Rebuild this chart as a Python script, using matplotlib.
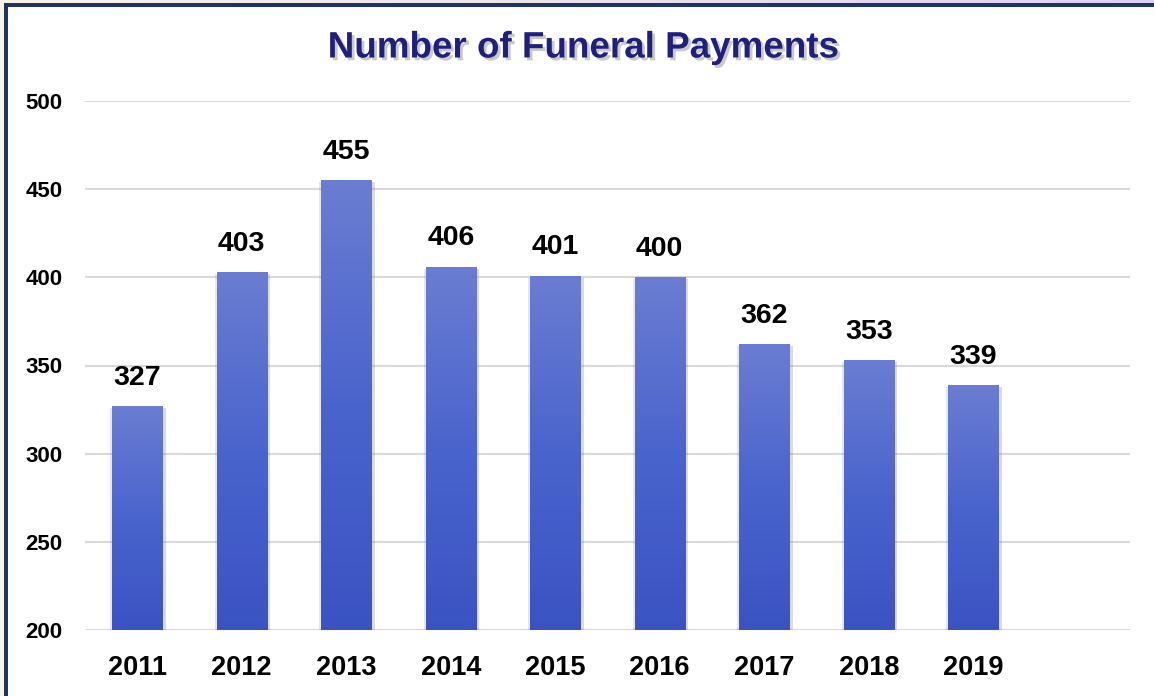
import matplotlib.pyplot as plt
import matplotlib.patheffects as pe
import numpy as np
from matplotlib.colors import LinearSegmentedColormap
from matplotlib.patches import Rectangle

years = ['2011', '2012', '2013', '2014', '2015', '2016', '2017', '2018', '2019']
payments = [327, 403, 455, 406, 401, 400, 362, 353, 339]
y_ticks = [200, 250, 300, 350, 400, 450, 500]

plt.rcParams['font.family'] = ['Liberation Sans', 'DejaVu Sans']

fig = plt.figure(figsize=(11.54, 6.96), dpi=100)
fig.patch.set_facecolor('white')

# frame: cream / lavender strip and navy border on top and left
strip = np.linspace(0, 1, 256).reshape(1, -1)
strip_cmap = LinearSegmentedColormap.from_list('strip', ['#fbf3e4', '#ddd0f2'])
top_ax = fig.add_axes([0, 1 - 3 / 696, 1, 3 / 696])
top_ax.imshow(strip, cmap=strip_cmap, aspect='auto')
top_ax.axis('off')
fig.patches.append(Rectangle((0, 0), 4 / 1154, 1 - 3 / 696, transform=fig.transFigure,
                             facecolor='#fbf3e4', edgecolor='none', zorder=1))
fig.patches.append(Rectangle((4 / 1154, 0), 4 / 1154, 1 - 3 / 696, transform=fig.transFigure,
                             facecolor='#1f3366', edgecolor='none', zorder=2))
fig.patches.append(Rectangle((4 / 1154, 1 - 7 / 696), 1, 4 / 696, transform=fig.transFigure,
                             facecolor='#1f3366', edgecolor='none', zorder=2))

ax = fig.add_axes([85 / 1154, 66 / 696, 1045 / 1154, 529 / 696])
x = np.arange(len(years))

bar_cmap = LinearSegmentedColormap.from_list('bar', ['#3a53c2', '#4a64cd', '#6a7dd2'])
bars = ax.bar(x, payments, width=0.48, bottom=0, color='none', zorder=3,
              path_effects=[pe.SimplePatchShadow(offset=(2.5, -1.5), shadow_rgbFace='#888888', alpha=0.3),
                            pe.SimplePatchShadow(offset=(-1.5, -1.5), shadow_rgbFace='#888888', alpha=0.2),
                            pe.Normal()])
gradient = np.linspace(0, 1, 256).reshape(-1, 1)
for bar in bars:
    x0, w, h = bar.get_x(), bar.get_width(), bar.get_height()
    im = ax.imshow(gradient, cmap=bar_cmap, origin='lower', aspect='auto',
                   extent=[x0, x0 + w, 200, h], zorder=3.5)
    im.set_clip_path(bar)

for xi, val in zip(x, payments):
    ax.annotate(str(val), (xi, val), xytext=(0, 11), textcoords='offset points',
                ha='center', va='bottom', fontsize=20.5, fontweight='bold', color='black')

ax.set_xlim(-0.5, 9.5)
ax.set_ylim(200, 500)
ax.set_yticks(y_ticks)
ax.set_xticks(x)
ax.set_xticklabels(years)
ax.tick_params(axis='x', length=0, pad=18, labelsize=19.5)
ax.tick_params(axis='y', length=0, pad=16, labelsize=16)
for lbl in ax.get_xticklabels() + ax.get_yticklabels():
    lbl.set_fontweight('bold')
ax.grid(axis='y', color='#d9d9d9', linewidth=1.5, zorder=0)
ax.set_axisbelow(True)
for s in ax.spines.values():
    s.set_visible(False)
ax.set_facecolor('none')

fig.text(583 / 1154, 1 - 48 / 696, 'Number of Funeral Payments', ha='center', va='center',
         fontsize=26.5, fontweight='bold', color='#1f1f7e',
         path_effects=[pe.SimplePatchShadow(offset=(2, -2), shadow_rgbFace='#666666', alpha=0.35),
                       pe.Normal()])

fig.savefig('out.png', dpi=100)
